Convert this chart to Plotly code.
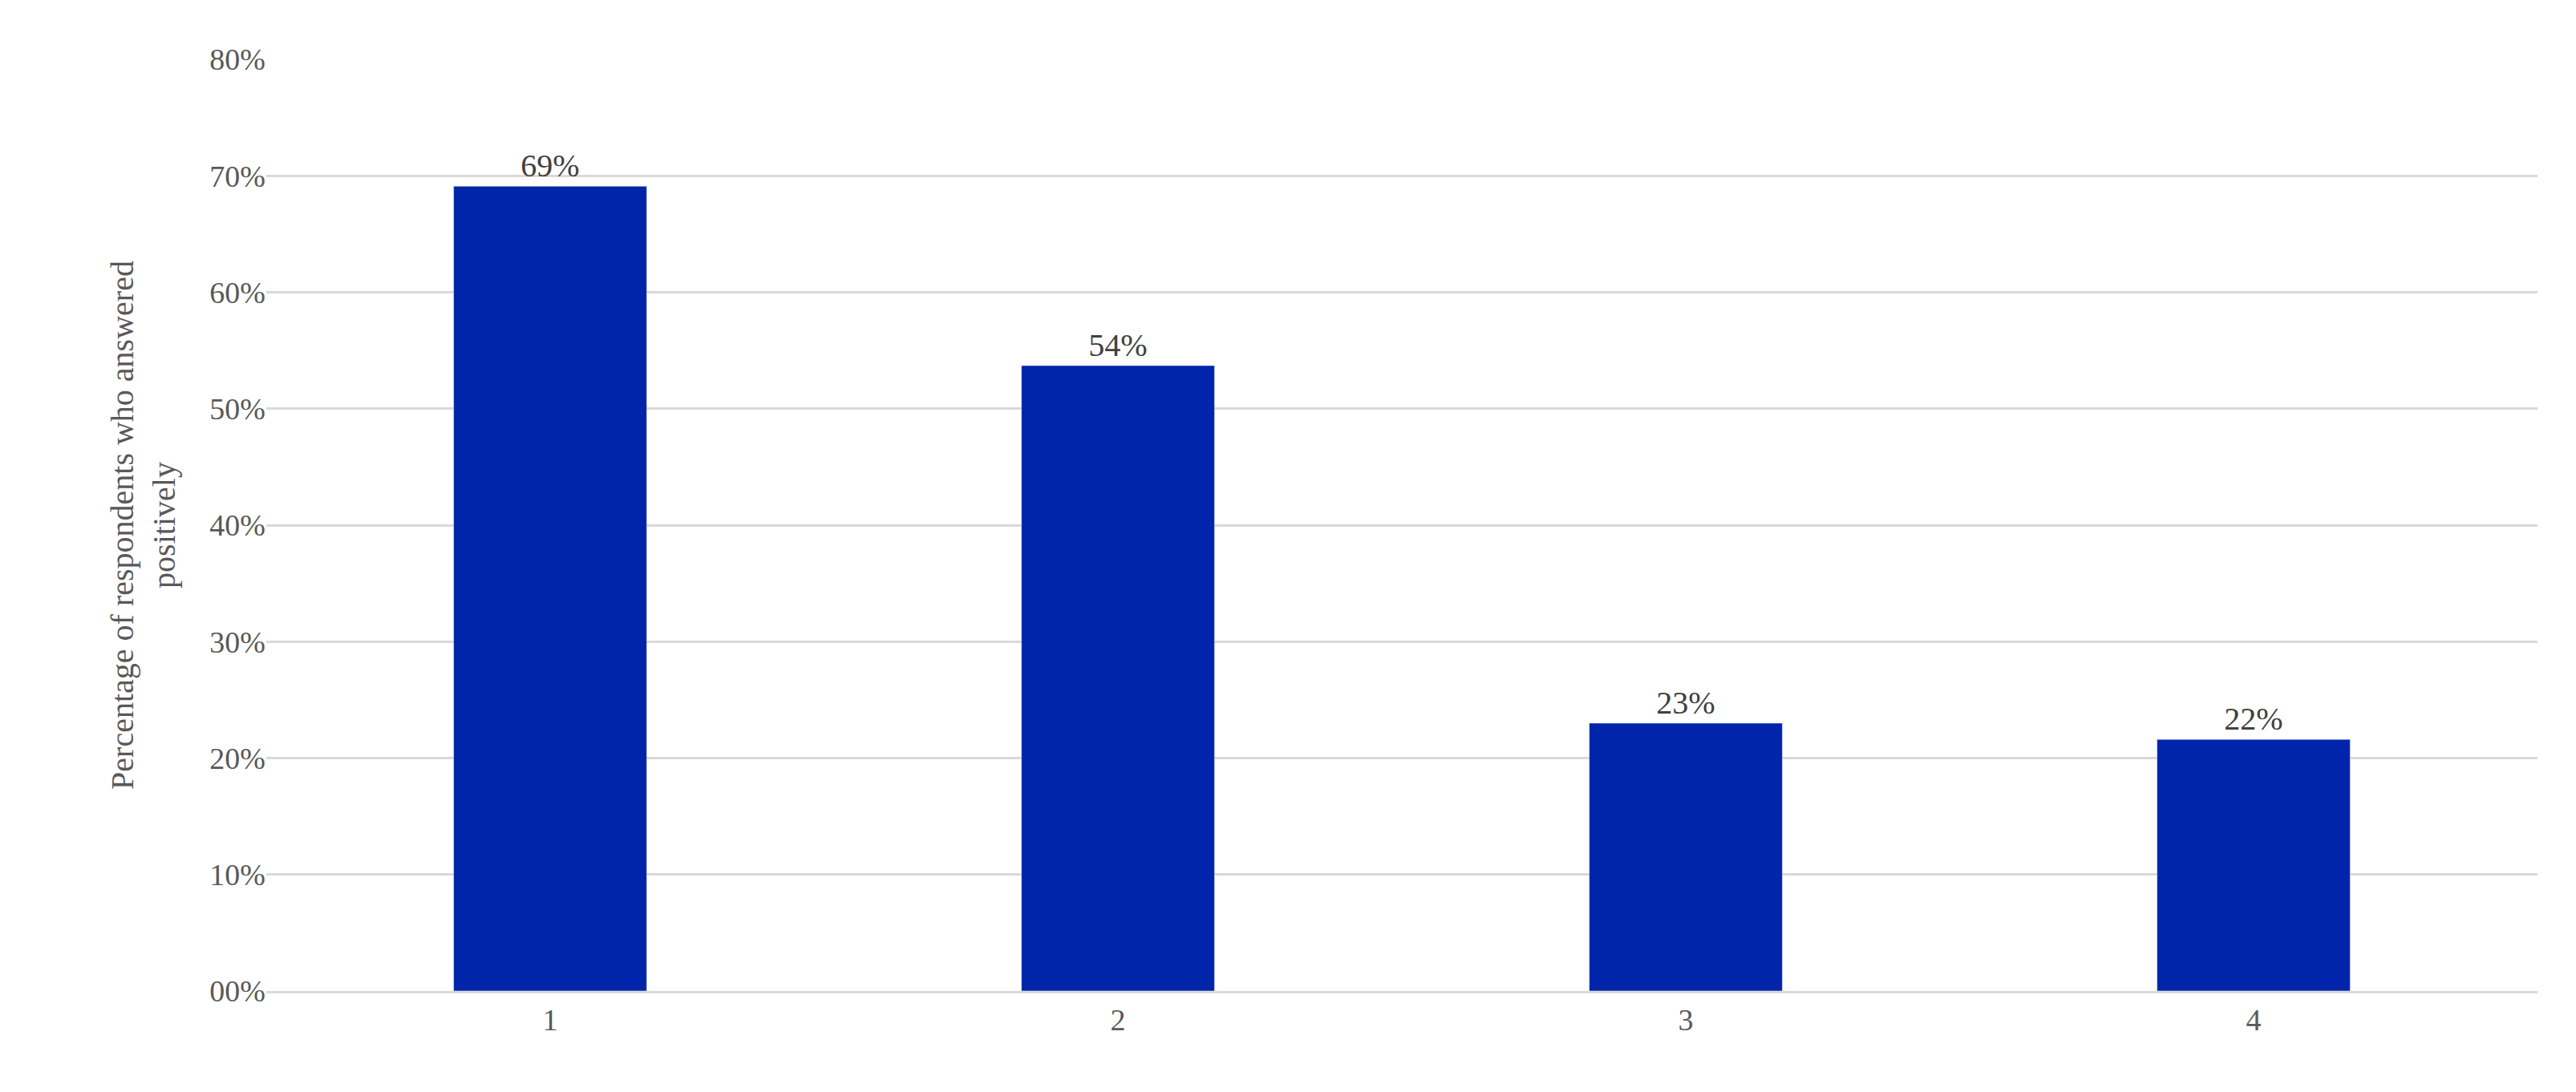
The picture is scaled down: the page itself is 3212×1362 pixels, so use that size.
import plotly.graph_objects as go

categories = ["1", "2", "3", "4"]
values = [69.1, 53.7, 23.0, 21.6]
labels = ["69%", "54%", "23%", "22%"]
tick_vals = [0, 10, 20, 30, 40, 50, 60, 70, 80]
tick_text = ["00%", "10%", "20%", "30%", "40%", "50%", "60%", "70%", "80%"]

font = "Liberation Serif, DejaVu Serif, serif"
fig = go.Figure(go.Bar(
    x=categories, y=values, text=labels, textposition="outside",
    marker_color="#0024AA", width=0.34,
    textfont=dict(size=40, color="#404040", family=font),
    cliponaxis=False,
))
fig.update_layout(
    width=3212, height=1362, plot_bgcolor="white", paper_bgcolor="white",
    margin=dict(l=324, r=56, t=66, b=134),
    font=dict(family=font, size=38, color="#595959"),
    showlegend=False,
    yaxis=dict(range=[0, 80], tickvals=tick_vals, ticktext=tick_text,
               showgrid=True, gridcolor="#D9D9D9", gridwidth=3, zeroline=False,
               ticks="", ticklen=0, title=dict(text="Percentage of respondents who answered<br>positively", font=dict(size=40, color="#595959"), standoff=30)),
    xaxis=dict(showline=True, linecolor="#D9D9D9", linewidth=3, ticks="", tickfont=dict(size=38)),
)
fig.write_html("out.html")
